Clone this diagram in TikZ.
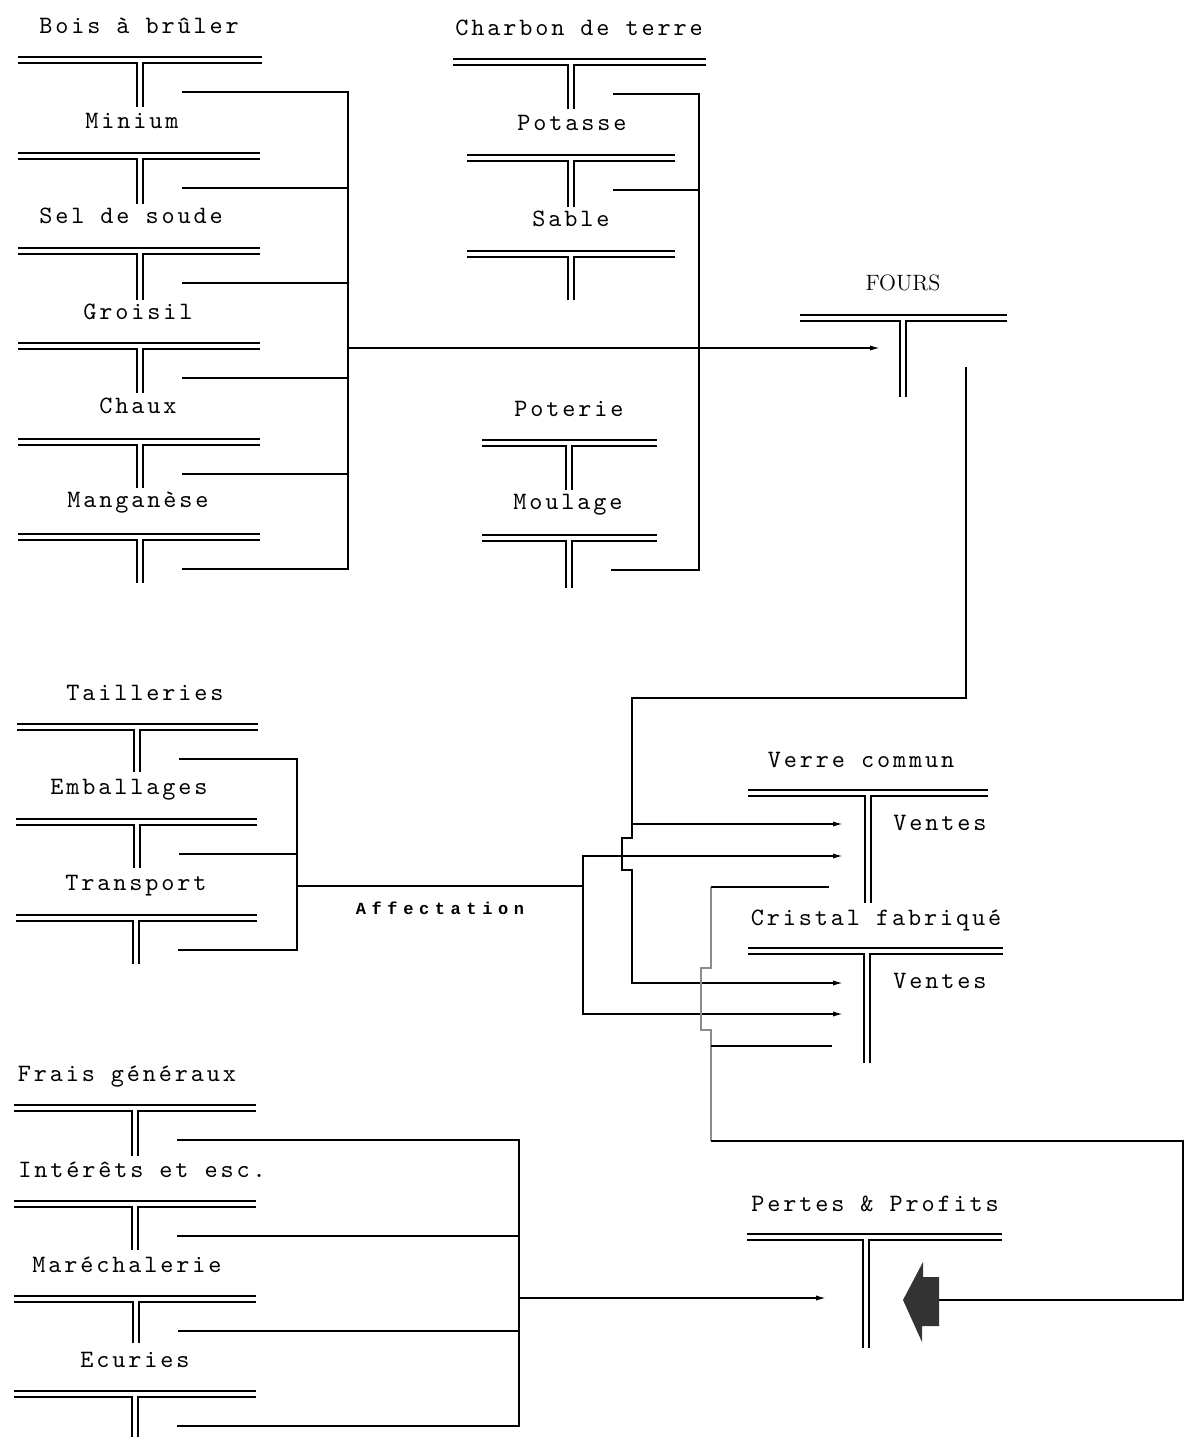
\documentclass[tikz,border=0pt]{standalone}
\usepackage{fontspec}
\usetikzlibrary{arrows.meta}

\newfontfamily\typewriter{lmmono10-regular.otf}[LetterSpace=11.5]
\newfontfamily\affectfont{Liberation Mono}[LetterSpace=33]

\tikzset{
  acct/.style={line width=0.8pt},
  link/.style={line width=0.75pt},
  feed/.style={link,-{Latex[length=5pt,width=2.6pt]}},
  faint/.style={line width=0.7pt,draw=black!45},
  lbl/.style={font=\fontsize{12.5}{15}\typewriter,inner sep=0pt,anchor=base},
  bigtip/.style={fill=black!80},
}

% T account: name, left end, right end, top line, stem x, stem end
\newcommand{\taccount}[6]{%
  \draw[acct] (#2,#4) -- (#3,#4);
  \draw[acct] (#2,#4+6) -- (#5-3,#4+6) -- (#5-3,#6);
  \draw[acct] (#3,#4+6) -- (#5+3,#4+6) -- (#5+3,#6);
  \coordinate (#1) at (#5,#4);
  \coordinate (#1-out) at (#5+42,#4+35);}

\begin{document}
\begin{tikzpicture}[x=0.5pt,y=0.5pt,yscale=-1]
        \useasboundingbox (0,0) rectangle (1184,1437);

        % raw materials
        \taccount{bois}{18}{262}{57}{140}{107}
        \taccount{minium}{18}{260}{153}{140}{204}
        \taccount{soude}{18}{260}{248}{140}{300}
        \taccount{groisil}{18}{260}{343}{140}{393}
        \taccount{chaux}{18}{260}{439}{140}{488}
        \taccount{mangan}{18}{260}{534}{140}{583}
        \node[lbl] (l-bois) at (139,33) {Bois à brûler};
        \node[lbl] (l-minium) at (132,128) {Minium};
        \node[lbl] (l-soude) at (131,223) {Sel de soude};
        \node[lbl] (l-groisil) at (138,319) {Groisil};
        \node[lbl] (l-chaux) at (138,413) {Chaux};
        \node[lbl] (l-mangan) at (138,507) {Manganèse};

        \taccount{charbon}{453}{706}{59}{571}{109}
        \taccount{potasse}{467}{675}{155}{571}{207}
        \taccount{sable}{467}{675}{251}{571}{300}
        \taccount{poterie}{482}{657}{440}{569}{490}
        \taccount{moulage}{482}{657}{535}{569}{588}
        \node[lbl] (l-charbon) at (579,35) {Charbon de terre};
        \node[lbl] (l-potasse) at (572,130) {Potasse};
        \node[lbl] (l-sable) at (571,226) {Sable};
        \node[lbl] (l-poterie) at (569,416) {Poterie};
        \node[lbl] (l-moulage) at (568,509) {Moulage};

        \taccount{fours}{800}{1007}{315}{903}{397}
        \node[font=\fontsize{11.1}{13}\selectfont,inner sep=0pt,anchor=base] (l-fours) at (903,290) {FOURS};

        \coordinate (busA) at (348,348);
        \coordinate (fours-in) at (880,348);
        \draw[link] (bois-out) -- (bois-out -| busA) -- (mangan-out -| busA) -- (mangan-out);
        \foreach \acc in {minium,soude,groisil,chaux}
          \draw[link] (\acc-out) -- (\acc-out -| busA);
        \draw[feed] (busA) -- (fours-in);

        \coordinate (busB) at (699,94);
        \draw[link] (charbon-out) -- (charbon-out -| busB) -- (moulage-out -| busB) -- (moulage-out);
        \draw[link] (potasse-out) -- (potasse-out -| busB);

        % workshops
        \taccount{taille}{17}{258}{724}{137}{772}
        \taccount{emball}{16}{257}{819}{137}{868}
        \taccount{transp}{16}{257}{915}{136}{964}
        \node[lbl] (l-taille) at (145,700) {Tailleries};
        \node[lbl] (l-emball) at (129,794) {Emballages};
        \node[lbl] (l-transp) at (136,890) {Transport};

        \coordinate (busC) at (297,886);
        \coordinate (affect) at (583,886);
        \draw[link] (taille-out) -- (taille-out -| busC) -- (transp-out -| busC) -- (transp-out);
        \draw[link] (emball-out) -- (emball-out -| busC);
        \draw[link] (busC) -- (affect);
        \node[font=\fontsize{8.5}{10}\affectfont\bfseries,inner sep=0pt,anchor=base] (l-affect) at (440,914) {Affectation};

        % general costs
        \taccount{frais}{14}{256}{1105}{135}{1156}
        \taccount{interet}{14}{256}{1201}{135}{1250}
        \taccount{marech}{14}{256}{1296}{136}{1343}
        \taccount{ecurie}{14}{256}{1391}{135}{1437}
        \node[lbl] (l-frais) at (127,1081) {Frais généraux};
        \node[lbl] (l-interet) at (142,1177) {Intérêts et esc.};
        \node[lbl] (l-marech) at (127,1272) {Maréchalerie};
        \node[lbl] (l-ecurie) at (135,1367) {Ecuries};

        \coordinate (busD) at (519,1298);
        \coordinate (pertes-in) at (826,1298);
        \draw[link] (frais-out) -- (frais-out -| busD) -- (ecurie-out -| busD) -- (ecurie-out);
        \foreach \acc in {interet,marech}
          \draw[link] (\acc-out) -- (\acc-out -| busD);
        \draw[feed] (busD) -- (pertes-in);

        % products and results
        \taccount{verre}{748}{988}{790}{868}{903}
        \taccount{cristal}{748}{1003}{948}{867}{1063}
        \taccount{pertes}{747}{1002}{1234}{866}{1348}
        \node[lbl] (l-verre) at (861,767) {Verre commun};
        \node[lbl] (l-ventes1) at (940,830) {Ventes};
        \node[lbl] (l-cristal) at (876,925) {Cristal fabriqué};
        \node[lbl] (l-ventes2) at (940,988) {Ventes};
        \node[lbl] (l-pertes) at (875,1211) {Pertes \& Profits};

        \coordinate (verre-in1) at (843,824);
        \coordinate (verre-in2) at (843,856);
        \coordinate (cristal-in1) at (843,983);
        \coordinate (cristal-in2) at (843,1014);
        \coordinate (fours-exit) at (966,367);
        \coordinate (splitA) at (632,698);
        \draw[feed] (fours-exit) |- (splitA) -- ++(0,140) -- ++(-10,0) -- ++(0,32) -- ++(10,0) |- (cristal-in1);
        \draw[feed] (splitA |- verre-in1) -- (verre-in1);
        \draw[feed] (affect) |- (verre-in2);
        \draw[feed] (affect) |- (cristal-in2);

        \coordinate (verre-bal) at (829,887);
        \coordinate (cristal-bal) at (832,1046);
        \coordinate (busE) at (711,1141);
        \coordinate (pp-turn) at (1183,1141);
        \coordinate (pp-arrow) at (939,1300);
        \draw[faint] (verre-bal -| busE) -- ++(0,81) -- ++(-10,0) -- ++(0,62) -- ++(10,0) -- (busE);
        \draw[link] (verre-bal) -- (verre-bal -| busE);
        \draw[link] (cristal-bal) -- (cristal-bal -| busE);
        \draw[link] (busE) -- (pp-turn) |- (pp-arrow);
        \fill[bigtip] (pp-arrow) -- ++(0,-23) -- ++(-16,0) -- ++(0,-15) -- ++(-20,38) -- ++(19,42) -- ++(0,-16) -- ++(17,0) -- cycle;

\end{tikzpicture}
\end{document}
